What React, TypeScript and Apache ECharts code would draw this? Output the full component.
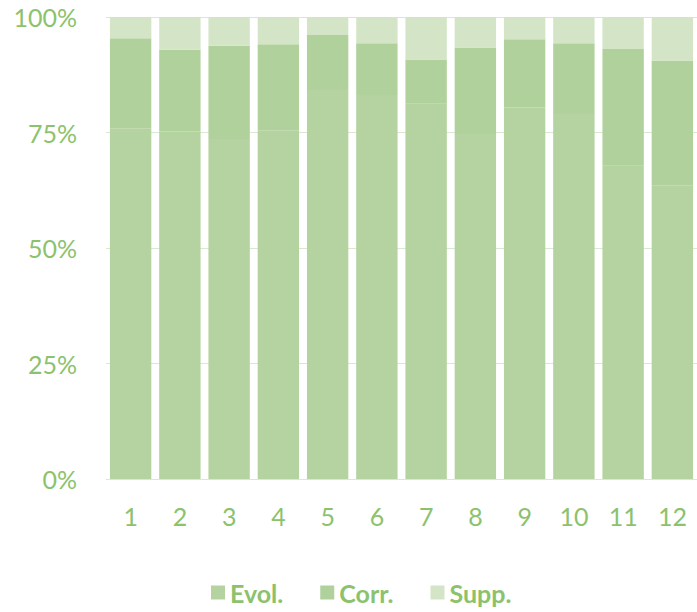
import React, { useEffect, useRef } from "react";
import * as echarts from "echarts";

const categories = ["1", "2", "3", "4", "5", "6", "7", "8", "9", "10", "11", "12"];
const evolValues = [75.9, 75.2, 73.6, 75.5, 84.2, 83.1, 81.2, 74.7, 80.4, 79.0, 67.8, 63.6];
const corrValues = [19.5, 17.7, 20.2, 18.6, 11.9, 11.2, 9.6, 18.7, 14.8, 15.3, 25.3, 27.0];
const suppValues = [4.6, 7.1, 6.2, 5.9, 3.9, 5.7, 9.2, 6.6, 4.8, 5.7, 6.9, 9.4];
const seriesNames = ["Evol.", "Corr.", "Supp."];

const TEXT = "#8cc26c";
const FONT = "Lato";

export default function App() {
  const ref = useRef<HTMLDivElement>(null);
  useEffect(() => {
    if (!ref.current) return;
    const chart = echarts.init(ref.current, undefined, { renderer: "svg" });
    const colors = ["#b4d3a1", "#b0d09c", "#d3e5c6"];
    const values = [evolValues, corrValues, suppValues];
    chart.setOption({
      animation: false,
      backgroundColor: "#ffffff",
      grid: { left: 106, right: -4, top: 17, bottom: 133, containLabel: false },
      legend: {
        left: 211,
        top: 580,
        padding: 0,
        itemWidth: 14,
        itemHeight: 14,
        itemGap: 37,
        icon: "rect",
        textStyle: { color: TEXT, fontFamily: FONT, fontSize: 25, fontWeight: "bold" },
        data: seriesNames,
      },
      xAxis: {
        type: "category",
        data: categories,
        axisLine: { show: true, lineStyle: { color: "#d9e9cf", width: 1 } },
        axisTick: { show: false },
        axisLabel: { color: TEXT, fontFamily: FONT, fontSize: 25, margin: 24 },
      },
      yAxis: {
        type: "value",
        min: 0,
        max: 100,
        interval: 25,
        axisLine: { show: false },
        axisTick: { show: false },
        axisLabel: { color: TEXT, fontFamily: FONT, fontSize: 25, margin: 29, formatter: "{value}%" },
        splitLine: { show: true, lineStyle: { color: "#d9e9cf", width: 1 } },
      },
      series: seriesNames.map((name, i) => ({
        name,
        type: "bar",
        stack: "total",
        data: values[i],
        barCategoryGap: "16%",
        itemStyle: { color: colors[i] },
      })),
    });
    return () => chart.dispose();
  }, []);
  return (
    <div
      ref={ref}
      style={{ position: "fixed", left: 0, top: 0, width: 697, height: 612, overflow: "hidden" }}
    />
  );
}
